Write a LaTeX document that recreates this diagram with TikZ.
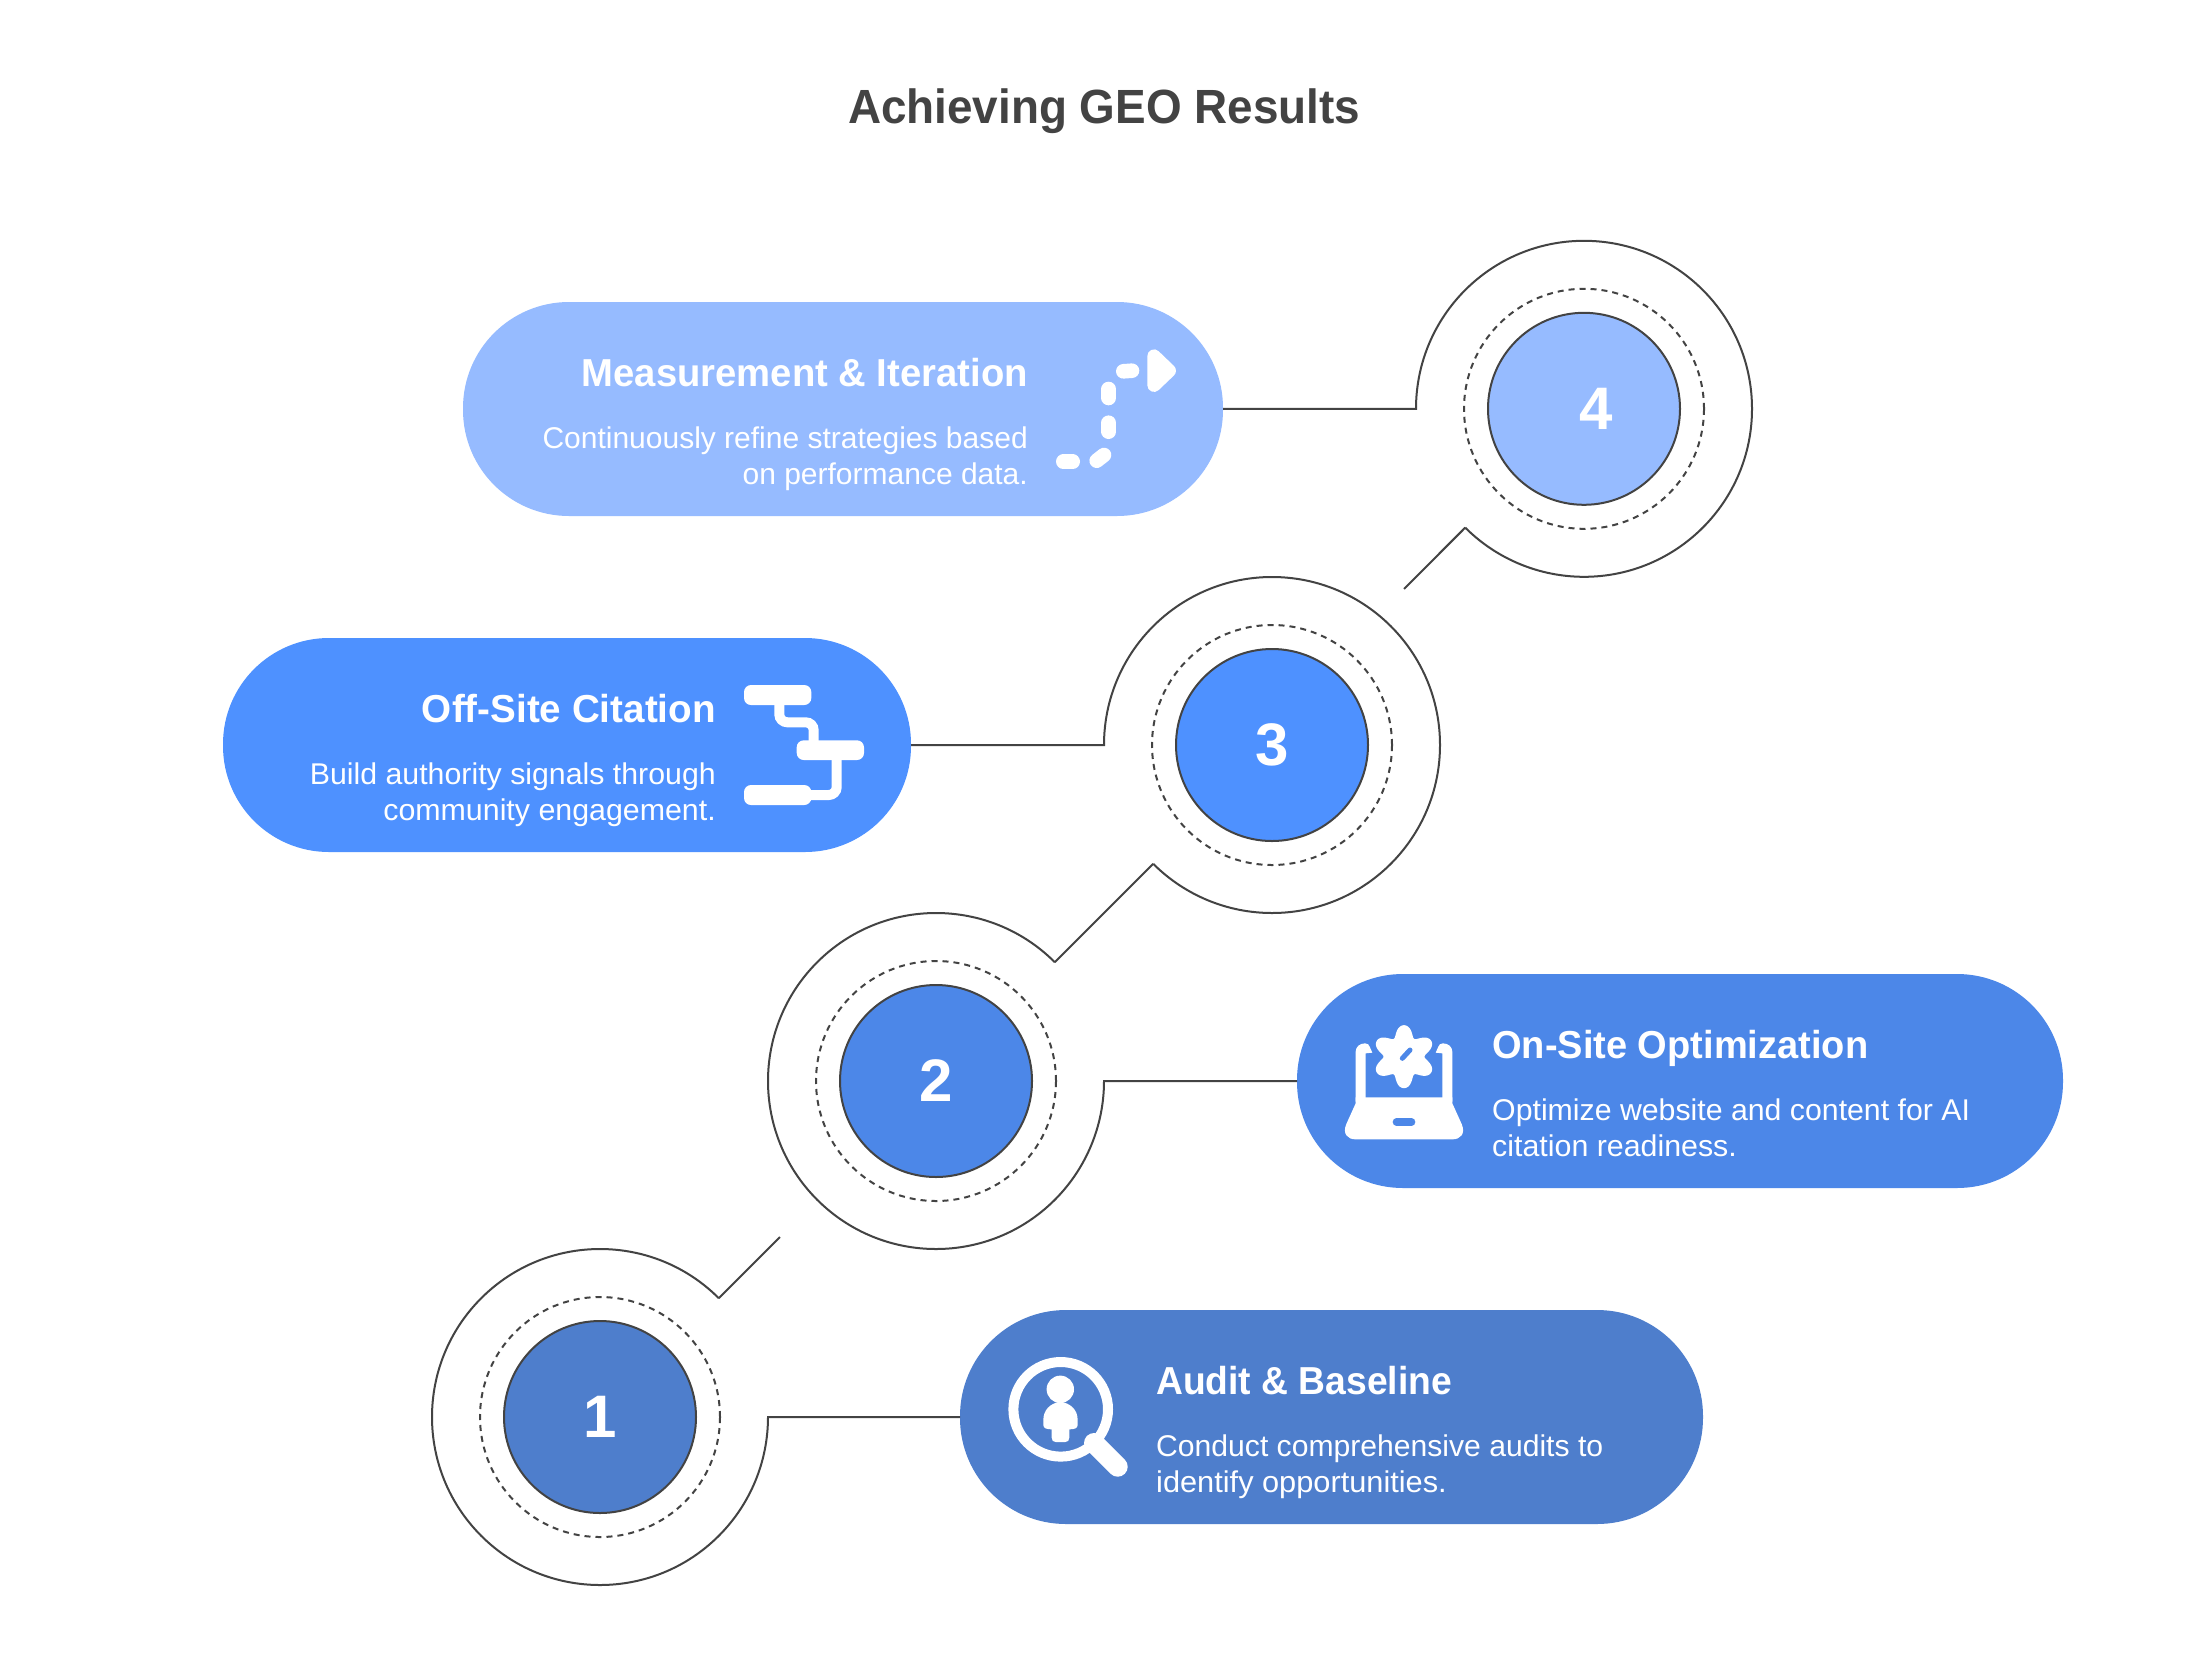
\documentclass[tikz,border=0pt]{standalone}
\usepackage{fontspec}
\setmainfont{Liberation Sans}
\definecolor{ink}{HTML}{434343}
\definecolor{colA}{HTML}{4E7ECC}
\definecolor{colB}{HTML}{4C87E8}
\definecolor{colC}{HTML}{4E91FF}
\definecolor{colD}{HTML}{96BBFF}
\newcommand{\ttl}{\fontsize{48}{58}\selectfont\bfseries}
\newcommand{\hd}{\fontsize{39}{47}\selectfont\bfseries}
\newcommand{\bd}{\fontsize{30}{36}\selectfont}
\newcommand{\num}{\fontsize{60}{70}\selectfont\bfseries}
\newcommand{\hs}[2]{\scalebox{#1}[1]{#2}}
\tikzset{
 x=1pt,y=-1pt,
 pill/.style={draw=none,rounded corners=106pt},
 ring/.style={circle,inner sep=0pt,outer sep=0pt,minimum size=336pt},
 dashring/.style={circle,inner sep=0pt,outer sep=0pt,minimum size=240pt,draw=ink,line width=2pt,dash pattern=on 6pt off 5pt},
 core/.style={circle,inner sep=0pt,outer sep=0pt,minimum size=192pt,draw=ink,line width=2pt},
 conn/.style={draw=ink,line width=2pt},
 heading/.style={inner sep=0pt,text=white,font=\hd},
 body/.style={inner sep=0pt,text=white,font=\bd},
 numeral/.style={inner sep=0pt,text=white,font=\num},
 icl/.style={draw=white,line cap=round,line join=round},
}
\begin{document}
\begin{tikzpicture}
\useasboundingbox (0,0) rectangle (2208,1660);
\fill[white] (0,0) rectangle (2208,1660);
\node[inner sep=0pt,text=ink,font=\ttl,anchor=base] (title) at (1104,123.5) {\hs{0.955}{Achieving GEO Results}};

% pills
\fill[colD,pill] (463,302) rectangle (1223,516);
\fill[colC,pill] (223,638) rectangle (911,852);
\fill[colB,pill] (1297,974) rectangle (2063,1188);
\fill[colA,pill] (960,1310) rectangle (1703,1524);
\coordinate (p4) at (1223,408.8);
\coordinate (p3) at (911,745);
\coordinate (p2) at (1297,1081);
\coordinate (p1) at (960,1417);

% rings
\node[ring] (o4) at (1584,408.8) {};
\node[ring] (o3) at (1272,745) {};
\node[ring] (o2) at (936,1081) {};
\node[ring] (o1) at (600,1417) {};
\node[dashring] (d4) at (o4) {};
\node[dashring] (d3) at (o3) {};
\node[dashring] (d2) at (o2) {};
\node[dashring] (d1) at (o1) {};
\node[core,fill=colD] (c4) at (o4) {};
\node[core,fill=colC] (c3) at (o3) {};
\node[core,fill=colB] (c2) at (o2) {};
\node[core,fill=colA] (c1) at (o1) {};
\node[numeral,anchor=center] (n4) at (1596,408.8) {4};
\node[numeral,anchor=center] (n3) at (o3) {3};
\node[numeral,anchor=center] (n2) at (o2) {2};
\node[numeral,anchor=center] (n1) at (o1) {1};

% connectors
\coordinate (e4) at (1404,589);
\coordinate (e1) at (780,1237);
\draw[conn] (p4) -- (o4.west) arc[start angle=180,end angle=495,radius=168];
\draw[conn] (o4.225) -- (e4);
\draw[conn] (p3) -- (o3.west) arc[start angle=180,end angle=495,radius=168];
\draw[conn] (o3.225) -- (o2.45);
\draw[conn] (o2.45) arc[start angle=-45,end angle=-360,radius=168] -- (p2);
\draw[conn] (o1.45) -- (e1);
\draw[conn] (o1.45) arc[start angle=-45,end angle=-360,radius=168] -- (p1);

% text 4
\node[heading,anchor=base east] (h4) at (1028,386) {\hs{0.98}{Measurement \& Iteration}};
\node[body,anchor=base east] (t4a) at (1028,448) {Continuously refine strategies based};
\node[body,anchor=base east] (t4b) at (1028,484) {on performance data.};
% text 3
\node[heading,anchor=base east] (h3) at (716,722) {\hs{0.99}{Off-Site Citation}};
\node[body,anchor=base east] (t3a) at (716,784.5) {\hs{1.01}{Build authority signals through}};
\node[body,anchor=base east] (t3b) at (716,820.5) {\hs{1.012}{community engagement.}};
% text 2
\node[heading,anchor=base west] (h2) at (1492,1058) {\hs{0.975}{On-Site Optimization}};
\node[body,anchor=base west] (t2a) at (1492,1120.5) {\hs{1.009}{Optimize website and content for AI}};
\node[body,anchor=base west] (t2b) at (1492,1156.5) {\hs{1.012}{citation readiness.}};
% text 1
\node[heading,anchor=base west] (h1) at (1156,1394.5) {\hs{0.955}{Audit \& Baseline}};
\node[body,anchor=base west] (t1a) at (1156,1456.5) {\hs{1.004}{Conduct comprehensive audits to}};
\node[body,anchor=base west] (t1b) at (1156,1492.5) {\hs{1.025}{identify opportunities.}};

% icon 4
\begin{scope}[icl,line width=14.6pt]
\draw (1063.3,461.7) -- (1072.7,461.7);
\draw (1096.7,460.7) -- (1104,455);
\draw (1108.7,422.7) -- (1108.7,431.7);
\draw (1108.7,389) -- (1108.7,398);
\draw (1123.3,371.3) -- (1132,370.7);
\filldraw[fill=white,line width=13.3pt] (1154,356) -- (1154,385.3) -- (1169.3,370.7) -- cycle;
\end{scope}

% icon 3
\draw[white,line width=10pt,rounded corners=8pt] (779.3,700) -- (779.3,722.3) -- (813.7,722.3) -- (813.7,745);
\draw[white,line width=10pt,rounded corners=8pt] (836.7,755) -- (836.7,795) -- (805,795);
\fill[white,rounded corners=7pt] (744,685) rectangle (811.3,705);
\fill[white,rounded corners=7pt] (796.7,740.3) rectangle (864,760);
\fill[white,rounded corners=7pt] (744,785) rectangle (811.3,805);

% icon 2 (origin 1320,1010, 3x)
\begin{scope}[shift={(1320,1010)},x=0.3333pt,y=-0.3333pt]
\fill[white] (107,275) -- (107,125) .. controls (107,110) and (120,100) .. (135,100) .. controls (143,100) and (147,104) .. (149,110) -- (157,128) -- (137,130) -- (137,275) -- cycle;
\fill[white] (397,275) -- (397,125) .. controls (397,110) and (384,100) .. (369,100) .. controls (361,100) and (357,104) .. (355,110) -- (347,128) -- (367,130) -- (367,275) -- cycle;
\fill[white] (107,262) -- (397,262) -- (397,280) -- (425,342) .. controls (438,372) and (420,388) .. (398,388) -- (106,388) .. controls (84,388) and (66,372) .. (79,342) -- (107,280) -- cycle;
\fill[white] plot[domain=0:360,samples=145,smooth] ({252+3*(26.5-5.5*cos(6*\x)-0.5*cos(12*\x))*cos(\x)},{140+3*(26.5-5.5*cos(6*\x)-0.5*cos(12*\x))*sin(\x)}) -- cycle;
\draw[colB,line width=5pt,line cap=round] (247,145) -- (270,120);
\draw[colB,line width=7.3pt,line cap=round] (229,336) -- (275,336);
\end{scope}

% icon 1
\draw[white,line width=10pt] (1060.7,1409.3) circle[radius=47.3];
\draw[white,line width=20pt,line cap=round] (1094,1443) -- (1117.7,1466.7);
\fill[white] (1060.3,1389.3) circle[radius=13.7];
\begin{scope}[shift={(990,1340)},x=0.3333pt,y=-0.3333pt]
\fill[white] (211,185) .. controls (180,190) and (160,210) .. (160,240) -- (160,255) .. controls (160,265) and (170,268) .. (185,268) -- (185,293) .. controls (185,302) and (190,306) .. (197,306) -- (226,306) .. controls (233,306) and (238,302) .. (238,293) -- (238,268) .. controls (253,268) and (263,265) .. (263,255) -- (263,240) .. controls (263,210) and (243,190) .. (211,185) -- cycle;
\end{scope}
\end{tikzpicture}
\end{document}
